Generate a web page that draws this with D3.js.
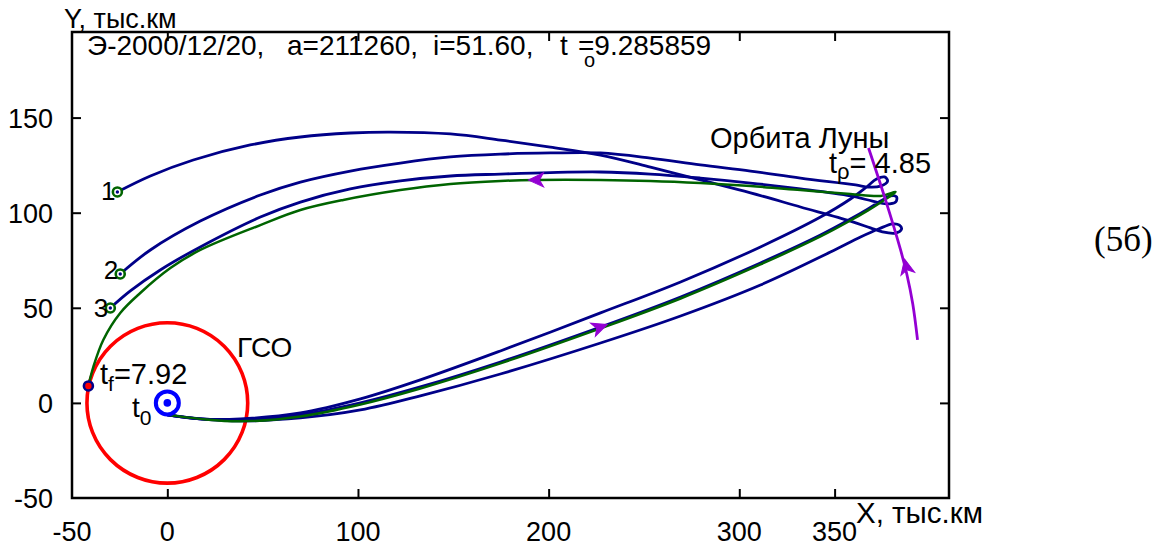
<!DOCTYPE html>
<html><head><meta charset="utf-8">
<script src="https://cdn.jsdelivr.net/npm/d3@7"></script>
<style>
body{margin:0;background:#fff;}
svg{display:block;font-family:"Liberation Sans",Arial,sans-serif;}
</style></head>
<body><svg id="c" width="1163" height="549"></svg>
<script>
// ---- data (thousand km) ----
const xDomain = [-50, 410];
const yDomain = [-50, 195];
const xTicks = [-50, 0, 100, 200, 300, 350];
const yTicks = [-50, 0, 50, 100, 150];
const titleParts = ["Э-2000/12/20,", "a=211260,", "i=51.60,", "t", "=9.285859"];
const titleSub = "o";
const gsoRadius = 42.164;

// trajectory 1: outbound -> loop near Moon -> back to point 1
const traj1 = [[0,-6.3],[17.3,-8.4],[38.3,-9.5],[69.8,-7.9],[101.3,-3.7],[132.7,3.7],[174.7,15.2],[227.2,31.5],[269.2,45.7],[311.1,62.0],[347.8,79.3],[363.6,87.2],[373.0,91.4],[380.4,94.1],[384.0,93.5],[385.1,91.4],[382.0,89.3],[375.1,89.9],[368.8,92.0],[358.3,95.6],[332.1,103.0],[305.9,110.4],[279.6,117.2],[253.4,124.0],[227.2,130.3],[200.9,134.5],[174.7,138.2],[148.5,141.4],[117.0,142.4],[96.0,141.9],[69.8,139.8],[43.5,135.6],[13.6,127.7],[-8.9,119.3],[-26.2,110.9]];
// trajectory 2
const traj2 = [[0,-6.3],[17.3,-8.4],[38.3,-8.4],[69.8,-5.3],[101.3,2.1],[132.7,12.1],[174.7,27.3],[227.2,47.3],[269.2,63.6],[311.1,82.0],[342.6,97.7],[358.3,107.2],[366.7,113.5],[372.0,117.7],[376.2,118.8],[377.8,116.7],[374.1,114.0],[367.8,113.5],[361.0,114.6],[332.1,118.2],[305.9,121.9],[279.6,125.1],[253.4,128.7],[227.2,131.4],[200.9,131.4],[174.7,130.8],[148.5,129.3],[122.2,126.1],[96.0,121.9],[69.8,116.1],[48.8,109.3],[17.3,95.6],[-8.9,80.4],[-24.7,67.8]];
// trajectory 3
const traj3 = [[0,-6.3],[17.3,-8.4],[38.3,-8.9],[69.8,-6.3],[101.3,0.0],[132.7,8.4],[174.7,21.5],[227.2,39.9],[269.2,55.7],[311.1,73.6],[342.6,88.3],[358.3,96.7],[367.3,101.9],[374.1,106.1],[379.3,108.8],[382.5,108.3],[382.0,105.6],[377.2,104.6],[369.9,106.1],[358.3,108.8],[332.1,112.5],[305.9,115.6],[279.6,118.2],[253.4,120.3],[227.2,121.4],[200.9,121.1],[174.7,120.3],[148.5,119.3],[122.2,116.7],[96.0,112.5],[69.8,105.6],[48.8,97.7],[17.3,82.0],[-3.7,69.9],[-19.4,58.9],[-29.9,49.9]];
// nominal (green) trajectory ending on GSO
const trajNominal = [[0,-6.3],[17.3,-8.4],[38.3,-9.7],[69.8,-7.1],[101.3,-0.8],[132.7,7.6],[174.7,20.8],[227.2,39.2],[269.2,54.9],[311.1,72.8],[342.6,87.5],[358.3,95.9],[367.3,101.1],[374.1,105.4],[382.0,110.9],[374.1,108.8],[358.3,109.8],[332.1,111.9],[305.9,114.0],[279.6,115.6],[253.4,116.7],[227.2,117.2],[193.1,117.2],[174.7,116.7],[148.5,115.1],[122.2,111.9],[92.3,106.7],[69.8,101.4],[48.8,93.5],[17.3,80.4],[1.6,70.9],[-14.2,57.8],[-24.7,47.3],[-33.6,33.1],[-38.8,18.9],[-41.4,8.9]];
// Moon orbit arc
const moonOrbit = [[367.8,134.0],[376.7,106.7],[384.6,80.4],[387.8,68.0],[391.0,52.0],[393.5,33.1]];
// arrows: position and a point ahead in travel direction
const arrows = [
  {at:[193.1,117.2], toward:[180.0,117.0]},
  {at:[227.2,39.9], toward:[240.0,44.6]},
  {at:[387.5,72.0], toward:[386.2,78.0]}
];
// end points
const endPoints = [
  {label:"1", p:[-26.2,110.9]},
  {label:"2", p:[-24.7,67.8]},
  {label:"3", p:[-29.9,49.9]}
];
const tfPoint = [-41.4,8.9];
const tfValue = "7.92";
const t0Point = [0,0];
const tpValue = "4.85";

// ---- layout ----
const L=72, R=949, T=32, B=498;
const svg = d3.select("#c");
const x = d3.scaleLinear().domain(xDomain).range([L,R]);
const y = d3.scaleLinear().domain(yDomain).range([B,T]);

const FS = 27;
const blue = "#000088", green = "#006400", purple = "#9400D3";

// frame
svg.append("rect").attr("x",L).attr("y",T).attr("width",R-L).attr("height",B-T)
  .attr("fill","none").attr("stroke","#000").attr("stroke-width",2.5);

// axes with inward ticks (mirrored)
const tk = 9;
const xIn = xTicks.filter(v=>v>xDomain[0]);
const yIn = yTicks.filter(v=>v>yDomain[0]);
svg.append("g").attr("transform",`translate(0,${B-tk})`)
  .call(d3.axisBottom(x).tickValues(xIn).tickSize(tk).tickFormat(""));
svg.append("g").attr("transform",`translate(0,${T})`)
  .call(d3.axisBottom(x).tickValues(xIn).tickSize(tk).tickFormat(""));
svg.append("g").attr("transform",`translate(${L},0)`)
  .call(d3.axisRight(y).tickValues(yIn).tickSize(tk).tickFormat(""));
svg.append("g").attr("transform",`translate(${R-tk},0)`)
  .call(d3.axisRight(y).tickValues(yIn).tickSize(tk).tickFormat(""));
svg.selectAll(".domain").remove();
svg.selectAll(".tick line").attr("stroke","#000").attr("stroke-width",2);

// tick labels
svg.append("g").selectAll("text").data(xTicks).join("text")
  .attr("x",d=>x(d)).attr("y",541).attr("text-anchor","middle")
  .attr("font-size",FS).text(d=>d);
svg.append("g").selectAll("text").data(yTicks).join("text")
  .attr("x",53).attr("y",d=>y(d)+10).attr("text-anchor","end")
  .attr("font-size",FS).text(d=>d);

// axis titles
svg.append("text").attr("x",64).attr("y",28).attr("font-size",27).text("Y, тыс.км");
svg.append("text").attr("x",856).attr("y",523).attr("font-size",29.5).text("X, тыс.км");

// title
const titleX = [87, 287, 433, 560, 578];
const tt = svg.append("text").attr("y",55).attr("font-size",28);
titleParts.forEach((s,i)=>tt.append("tspan").attr("x",titleX[i]).text(s));
svg.append("text").attr("x",584).attr("y",67).attr("font-size",20).text(titleSub);

// line generator
const line = d3.line().x(d=>x(d[0])).y(d=>y(d[1])).curve(d3.curveCatmullRom.alpha(0.5));

// GSO circle
svg.append("ellipse").attr("cx",x(0)).attr("cy",y(0))
  .attr("rx",x(gsoRadius)-x(0)).attr("ry",y(0)-y(gsoRadius))
  .attr("fill","none").attr("stroke","#ff0000").attr("stroke-width",3.6);

// trajectories
[traj1,traj2,traj3].forEach(t=>{
  svg.append("path").attr("d",line(t)).attr("fill","none").attr("stroke",blue).attr("stroke-width",2.8);
});
svg.append("path").attr("d",line(trajNominal)).attr("fill","none").attr("stroke",green).attr("stroke-width",2.5);

// moon orbit
svg.append("path").attr("d",line(moonOrbit)).attr("fill","none").attr("stroke",purple).attr("stroke-width",2.8);

// arrows
arrows.forEach(a=>{
  const px=x(a.at[0]), py=y(a.at[1]);
  const ang = Math.atan2(y(a.toward[1])-py, x(a.toward[0])-px)*180/Math.PI;
  svg.append("path").attr("d","M7,0 L-8,-7 L-4,0 L-8,7 Z")
    .attr("transform",`translate(${px},${py}) rotate(${ang})`)
    .attr("fill",purple).attr("stroke",purple).attr("stroke-width",1);
});

// end markers
endPoints.forEach(e=>{
  svg.append("circle").attr("cx",x(e.p[0])).attr("cy",y(e.p[1])).attr("r",4.5)
    .attr("fill","#fff").attr("stroke",green).attr("stroke-width",2.6);
  svg.append("circle").attr("cx",x(e.p[0])).attr("cy",y(e.p[1])).attr("r",1.7).attr("fill",blue);
});
const lblOff = [[-2,8],[-2,5],[-2,9]];
endPoints.forEach((e,i)=>{
  svg.append("text").attr("x",x(e.p[0])+lblOff[i][0]).attr("y",y(e.p[1])+lblOff[i][1])
    .attr("text-anchor","end").attr("font-size",26).text(e.label);
});

// tf marker
svg.append("circle").attr("cx",x(tfPoint[0])).attr("cy",y(tfPoint[1])).attr("r",4.5)
  .attr("fill","#ff0000").attr("stroke",blue).attr("stroke-width",2.6);
const tf = svg.append("text").attr("x",100).attr("y",384).attr("font-size",29);
tf.append("tspan").text("t");
tf.append("tspan").attr("font-size",21).attr("dy",7).text("f");
tf.append("tspan").attr("dy",-7).text("="+tfValue);

// t0 marker
svg.append("circle").attr("cx",x(t0Point[0])).attr("cy",y(t0Point[1])).attr("r",11.5)
  .attr("fill","#fff").attr("stroke","#0000ff").attr("stroke-width",4);
svg.append("circle").attr("cx",x(t0Point[0])).attr("cy",y(t0Point[1])).attr("r",3.8).attr("fill","#0000ff");
const t0 = svg.append("text").attr("x",132).attr("y",417).attr("font-size",28);
t0.append("tspan").text("t");
t0.append("tspan").attr("font-size",21).attr("dy",8).text("0");

// labels
svg.append("text").attr("x",237).attr("y",357).attr("font-size",28).text("ГСО");
svg.append("text").attr("x",710).attr("y",148).attr("font-size",29).text("Орбита Луны");
const tp = svg.append("text").attr("x",829).attr("y",173).attr("font-size",29);
tp.append("tspan").text("t");
tp.append("tspan").attr("font-size",22).attr("dy",6).text("ρ");
tp.append("tspan").attr("dy",-6).text("= "+tpValue);

svg.append("text").attr("x",1094).attr("y",251).attr("font-size",35)
  .attr("font-family","'Liberation Serif','Times New Roman',serif").text("(5б)");
</script></body></html>
